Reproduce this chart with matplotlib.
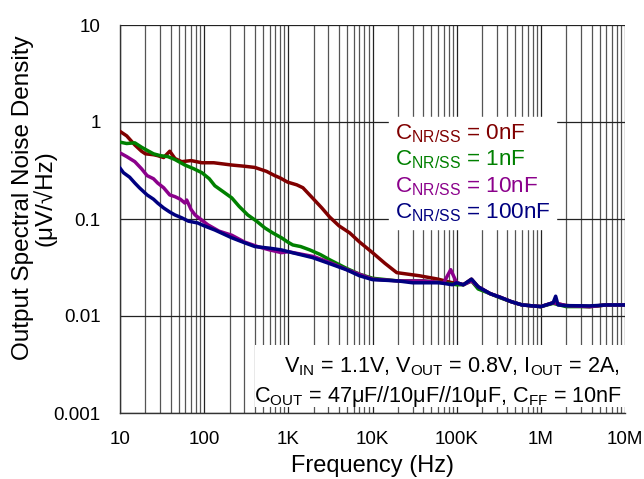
import numpy as np
import matplotlib
matplotlib.use("Agg")
import matplotlib.pyplot as plt
from matplotlib.ticker import LogLocator, NullFormatter
from matplotlib.patches import Rectangle

# ============================================================
# DATA
# ============================================================

freq_0nF = [10, 12, 15, 18, 20, 25, 28, 33, 39, 45, 54, 70, 94, 130, 213,
            300, 400, 550, 690, 800, 980, 1260, 1490, 2000, 2500, 3090, 4000,
            5350, 7000, 10000, 14000, 19400, 36000, 60000, 89000, 100000,
            120000, 150000, 180000, 250000, 323000, 450000, 600000, 1000000,
            1400000, 2000000, 3800000, 6000000, 10000000]
noise_0nF = [0.80, 0.72, 0.58, 0.50, 0.47, 0.46, 0.45, 0.43, 0.50, 0.42, 0.39,
             0.40, 0.38, 0.38, 0.36, 0.35, 0.34, 0.31, 0.28, 0.265, 0.24, 0.225,
             0.21, 0.16, 0.13, 0.105, 0.085, 0.072, 0.058, 0.045, 0.035, 0.028,
             0.026, 0.024, 0.022, 0.022, 0.021, 0.024, 0.020, 0.017, 0.0157,
             0.014, 0.013, 0.0125, 0.0137, 0.0128, 0.0125, 0.013, 0.013]

freq_1nF = [10, 12, 15, 18, 21, 25, 30, 37, 45, 59, 75, 94, 115, 134, 170,
            213, 260, 330, 420, 525, 650, 830, 980, 1130, 1400, 1800, 2400,
            3100, 4900, 7000, 10000, 20000, 40000, 70000, 100000, 120000,
            150000, 180000, 250000, 323000, 450000, 600000, 1000000, 1400000,
            2000000, 3800000, 6000000, 10000000]
noise_1nF = [0.62, 0.60, 0.61, 0.55, 0.51, 0.47, 0.45, 0.44, 0.41, 0.36, 0.33,
             0.30, 0.26, 0.22, 0.19, 0.165, 0.135, 0.11, 0.095, 0.081, 0.072,
             0.064, 0.058, 0.054, 0.052, 0.048, 0.043, 0.038, 0.031, 0.027,
             0.0245, 0.023, 0.023, 0.022, 0.021, 0.021, 0.023, 0.019, 0.017,
             0.0155, 0.014, 0.013, 0.0125, 0.0135, 0.0125, 0.0125, 0.013, 0.013]

freq_10nF = [10, 12, 15, 18, 21, 25, 28, 33, 39, 45, 52, 59, 62, 70, 78, 90,
             111, 150, 213, 300, 430, 600, 830, 1000, 2000, 3000, 5000, 10000,
             20000, 40000, 70000, 85000, 100000, 120000, 150000, 180000,
             250000, 323000, 450000, 600000, 1000000, 1400000, 2000000,
             3800000, 6000000, 10000000]
noise_10nF = [0.48, 0.44, 0.39, 0.33, 0.28, 0.26, 0.235, 0.21, 0.177, 0.17,
              0.16, 0.146, 0.157, 0.125, 0.11, 0.10, 0.087, 0.075, 0.068,
              0.058, 0.052, 0.048, 0.045, 0.046, 0.041, 0.036, 0.030, 0.024,
              0.023, 0.023, 0.022, 0.030, 0.022, 0.021, 0.023, 0.020, 0.017,
              0.0157, 0.014, 0.013, 0.0125, 0.0137, 0.0128, 0.0125, 0.013,
              0.013]

freq_100nF = [10, 11, 13, 15, 17, 21, 25, 28, 33, 39, 45, 54, 65, 84, 100,
              134, 213, 300, 400, 600, 830, 1000, 1940, 3000, 4900, 7000,
              10000, 20000, 30000, 63000, 89000, 100000, 120000, 150000,
              180000, 250000, 323000, 450000, 600000, 1000000, 1400000,
              1500000, 1600000, 2000000, 3800000, 6000000, 10000000]
noise_100nF = [0.335, 0.30, 0.27, 0.235, 0.21, 0.177, 0.16, 0.146, 0.13, 0.118,
               0.11, 0.103, 0.095, 0.091, 0.085, 0.077, 0.064, 0.057, 0.052,
               0.050, 0.048, 0.046, 0.040, 0.035, 0.030, 0.026, 0.0237, 0.023,
               0.022, 0.022, 0.021, 0.022, 0.021, 0.024, 0.020, 0.017, 0.0157,
               0.014, 0.013, 0.0125, 0.0137, 0.016, 0.013, 0.0128, 0.0127,
               0.013, 0.013]

series_labels = ["0nF", "1nF", "10nF", "100nF"]
series_colors = ["#800000", "#008000", "#8B008B", "#000080"]

x_ticks = [10, 100, 1e3, 1e4, 1e5, 1e6, 1e7]
x_tick_labels = ["10", "100", "1K", "10K", "100K", "1M", "10M"]
y_ticks = [0.001, 0.01, 0.1, 1, 10]
y_tick_labels = ["0.001", "0.01", "0.1", "1", "10"]

# ============================================================
# STYLE
# ============================================================

plt.rcParams["font.family"] = ["Liberation Sans", "DejaVu Sans"]
plt.rcParams["mathtext.fontset"] = "custom"
plt.rcParams["mathtext.rm"] = "Liberation Sans"
plt.rcParams["mathtext.it"] = "Liberation Sans"

MU = "\u03bc"

# ============================================================
# PLOT
# ============================================================

fig = plt.figure(figsize=(6.44, 4.79), dpi=100)
ax = fig.add_axes([120 / 644, 1 - 413 / 479, 505 / 644, 388 / 479])

series = [
    (freq_0nF, noise_0nF),
    (freq_1nF, noise_1nF),
    (freq_10nF, noise_10nF),
    (freq_100nF, noise_100nF),
]

for (f, v), lab, col in zip(series, series_labels, series_colors):
    ax.plot(f, v, color=col, linewidth=2.5,
            label=r"C$_{\mathrm{NR/SS}}$ = " + lab, zorder=3)

ax.set_xscale("log")
ax.set_yscale("log")
ax.set_xlim(10, 1e7)
ax.set_ylim(0.001, 10)

ax.set_xticks(x_ticks)
ax.set_xticklabels(x_tick_labels)
ax.set_yticks(y_ticks)
ax.set_yticklabels(y_tick_labels)
ax.xaxis.set_minor_locator(LogLocator(base=10, subs=np.arange(2, 10)))
ax.xaxis.set_minor_formatter(NullFormatter())
ax.yaxis.set_minor_locator(plt.NullLocator())

ax.tick_params(which="both", length=0, labelsize=13.5)
ax.tick_params(axis="y", pad=14)
ax.tick_params(axis="x", pad=13)

ax.grid(which="major", axis="both", color="#222222", linewidth=0.9)
ax.grid(which="minor", axis="x", color="#555555", linewidth=0.9)
ax.set_axisbelow(True)

for side in ["top", "right"]:
    ax.spines[side].set_visible(False)
for side in ["left", "bottom"]:
    ax.spines[side].set_color("#333333")
    ax.spines[side].set_linewidth(1.0)

ax.set_xlabel("Frequency (Hz)", fontsize=17, labelpad=5)
ax.set_ylabel("Output Spectral Noise Density\n(" + MU + "V/\u221aHz)",
              fontsize=17.5, linespacing=0.9)
ax.yaxis.set_label_coords(-0.126, 0.554)

leg = ax.legend(
    loc="upper left",
    bbox_to_anchor=(0.511, 0.792),
    handlelength=0,
    handletextpad=0,
    labelcolor="linecolor",
    fontsize=16.2,
    frameon=True,
    fancybox=False,
    framealpha=1,
    edgecolor="white",
    borderpad=0.25,
    labelspacing=0.16,
)
for h in leg.legend_handles:
    h.set_visible(False)

# white box behind the test conditions
ax.add_patch(Rectangle((0.267, 0.015), 0.733, 0.16, transform=ax.transAxes,
                       facecolor="white", edgecolor="none", zorder=4))

line1 = (r"V$_{\mathrm{IN}}$ = 1.1V, V$_{\mathrm{OUT}}$ = 0.8V, "
         r"I$_{\mathrm{OUT}}$ = 2A,")
line2 = (r"C$_{\mathrm{OUT}}$ = 47" + MU + "F//10" + MU + "F//10" + MU +
         r"F, C$_{\mathrm{FF}}$ = 10nF")

ax.text(0.990, 0.1057, line1, transform=ax.transAxes, ha="right",
        va="baseline", fontsize=15.6, zorder=5)
ax.text(0.994, 0.0284, line2, transform=ax.transAxes, ha="right",
        va="baseline", fontsize=15.6, zorder=5)

fig.savefig("out.png", dpi=100)
